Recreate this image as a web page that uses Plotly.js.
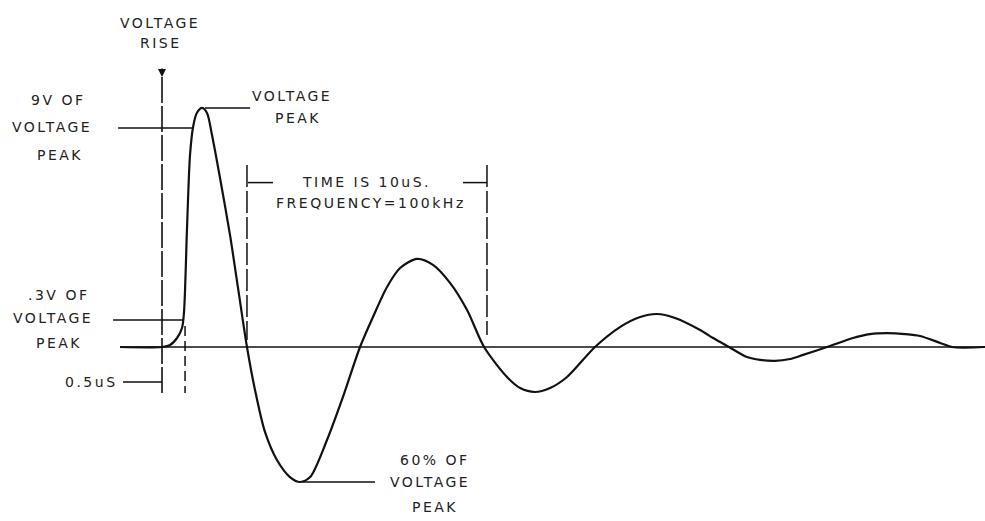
<!DOCTYPE html>
<html>
<head>
<meta charset="utf-8">
<script src="https://cdn.plot.ly/plotly-3.0.1.min.js"></script>
<style>
  html, body { margin: 0; padding: 0; background: #fff; }
  #chart { width: 985px; height: 521px; }
  text.annotation-text { letter-spacing: 2.5px; }
</style>
</head>
<body>
<div id="chart"></div>
<script>
// Ring wave: time in microseconds (t = 0 at start of rise), voltage as fraction of peak
const waveTime = [-1.75, 0, 0.333, 0.625, 0.833, 0.917, 1.042, 1.167, 1.3, 1.45, 1.667, 1.875, 2.083, 2.417, 2.833, 3.167, 3.54,
  3.875, 4.29, 4.79, 5.33, 5.75, 6.17, 6.875, 7.54, 8.25, 8.79, 9.375, 9.92, 10.625, 11.29, 12.0, 12.71, 13.42,
  14.375, 14.92, 15.54, 16.17, 16.875, 18.04, 19.08, 19.92, 20.625, 21.375, 22.42, 22.96, 23.625,
  24.375, 24.92, 25.54, 26.17, 26.71, 27.71, 28.79, 29.5, 30.21, 30.96, 31.58, 32.42, 32.92, 34.3];
const waveVolt = [0, 0, 0.008, 0.0375, 0.079, 0.146, 0.496, 0.8, 0.92, 0.975, 0.996, 0.975, 0.883, 0.704, 0.467, 0.246, 0,
  -0.179, -0.354, -0.471, -0.542, -0.5625, -0.542, -0.3875, -0.208, 0, 0.125, 0.25, 0.329, 0.367, 0.342, 0.267, 0.154, 0,
  -0.125, -0.171, -0.1875, -0.171, -0.125, 0, 0.083, 0.125, 0.1375, 0.121, 0.071, 0.0375, 0,
  -0.042, -0.054, -0.058, -0.05, -0.033, 0, 0.0375, 0.054, 0.058, 0.054, 0.046, 0.017, 0, 0];

// Reference levels (fraction of peak) and marked times (microseconds)
const levelPeak = 0.996;
const level90 = 0.9125;
const level10 = 0.113;
const levelTrough = -0.5625;
const riseStart = 0;
const riseEnd = 0.96;
const periodStart = 3.54;
const periodEnd = 13.54;
const axisStart = -1.75;
const axisEnd = 34.3;

const lineCol = '#111';
const traces = [];
function seg(xs, ys, w, dash) {
  traces.push({x: xs, y: ys, type: 'scatter', mode: 'lines', hoverinfo: 'skip',
    line: {color: lineCol, width: w, dash: dash || 'solid'}});
}
// baseline
seg([axisStart, axisEnd], [0, 0], 1.6);
// leaders
seg([-1.83, 1.29], [level90, level90], 1.5);
seg([1.79, 3.67], [levelPeak, levelPeak], 1.5);
seg([-2.04, 0.875], [level10, level10], 1.5);
seg([-1.625, riseStart], [-0.146, -0.146], 1.5);
seg([5.875, 8.875], [levelTrough, levelTrough], 1.5);
seg([3.58, 4.625], [0.685, 0.685], 1.5);
seg([12.54, periodEnd], [0.685, 0.685], 1.5);
// verticals
seg([riseStart, riseStart], [1.125, -0.192], 1.6, '26px,3px');
seg([riseEnd, riseEnd], [0.088, -0.192], 1.5, '10px,5px');
seg([periodStart, periodStart], [0.758, 0.029], 1.5, '22px,4px');
seg([periodEnd, periodEnd], [0.758, 0.05], 1.5, '22px,4px');
// waveform
traces.push({x: waveTime, y: waveVolt, type: 'scatter', mode: 'lines', hoverinfo: 'skip',
  line: {color: lineCol, width: 2.2, shape: 'spline', smoothing: 0.8}});

const labels = [
  ['VOLTAGE', -0.1, 1.35], ['RISE', -0.05, 1.267],
  ['9V OF', -4.3, 1.03], ['VOLTAGE', -4.6, 0.917], ['PEAK', -4.25, 0.8],
  ['VOLTAGE', 5.4, 1.045], ['PEAK', 5.65, 0.954],
  ['TIME IS 10uS.', 8.5, 0.688], ['FREQUENCY=100kHz', 8.7, 0.6],
  ['.3V OF', -4.33, 0.217], ['VOLTAGE', -4.54, 0.121], ['PEAK', -4.29, 0.017],
  ['0.5uS', -2.92, -0.146],
  ['60% OF', 11.375, -0.471], ['VOLTAGE', 11.17, -0.5625], ['PEAK', 11.375, -0.667]
];
const annotations = labels.map(l => ({
  text: l[0], x: l[1], y: l[2], xref: 'x', yref: 'y', showarrow: false,
  xanchor: 'center', yanchor: 'middle',
  font: {family: 'DejaVu Sans', size: 14, color: '#222'}
}));
annotations.push({x: riseStart, y: 1.125, xref: 'x', yref: 'y', text: '', showarrow: true,
  ax: 0, ay: -10, arrowhead: 2, arrowsize: 1, arrowwidth: 1.6, arrowcolor: lineCol});

const layout = {
  width: 985, height: 521,
  margin: {l: 0, r: 0, t: 0, b: 0},
  paper_bgcolor: '#fff', plot_bgcolor: '#fff',
  showlegend: false,
  xaxis: {range: [-6.75, 34.29], visible: false, fixedrange: true},
  yaxis: {range: [-0.725, 1.4458], visible: false, fixedrange: true},
  annotations: annotations
};
Plotly.newPlot('chart', traces, layout, {displayModeBar: false, staticPlot: true});
</script>
</body>
</html>
